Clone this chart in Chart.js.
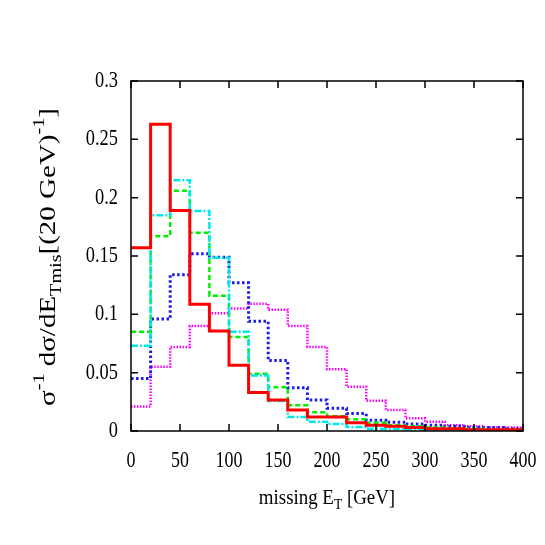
<!DOCTYPE html>
<html>
<head>
<meta charset="utf-8">
<script src="https://cdn.jsdelivr.net/npm/chart.js@4.4.0/dist/chart.umd.min.js"></script>
<style>
  html, body { margin: 0; padding: 0; background: #fff; }
</style>
</head>
<body>
<canvas id="histChart" width="545" height="545"></canvas>
<script>
// bin edges in GeV (20 GeV bins)
var binEdges = [0, 20, 40, 60, 80, 100, 120, 140, 160, 180, 200, 220, 240, 260, 280, 300, 320, 340, 360, 380, 400];

// normalised distributions, one value per bin
var redVals     = [0.157, 0.263, 0.189, 0.1086, 0.0857, 0.0563, 0.033, 0.0265, 0.018, 0.012, 0.012, 0.007, 0.005, 0.004, 0.003, 0.002, 0.002, 0.001, 0.001, 0.001];
var greenVals   = [0.085, 0.167, 0.206, 0.170, 0.116, 0.0806, 0.049, 0.0376, 0.022, 0.016, 0.0127, 0.010, 0.007, 0.005, 0.004, 0.003, 0.002, 0.002, 0.001, 0.001];
var cyanVals    = [0.073, 0.185, 0.215, 0.1886, 0.1485, 0.085, 0.0475, 0.0257, 0.012, 0.008, 0.006, 0.0034, 0.002, 0.002, 0.0015, 0.001, 0.001, 0.001, 0.0005, 0.0005];
var blueVals    = [0.045, 0.096, 0.134, 0.152, 0.149, 0.127, 0.094, 0.0604, 0.037, 0.0265, 0.0195, 0.015, 0.0093, 0.0076, 0.006, 0.005, 0.004, 0.003, 0.003, 0.002];
var magentaVals = [0.021, 0.055, 0.072, 0.090, 0.101, 0.105, 0.109, 0.104, 0.090, 0.072, 0.053, 0.038, 0.026, 0.018, 0.011, 0.008, 0.005, 0.004, 0.003, 0.003];

// turn bin values into points on the bin edges (last value repeated at the right edge)
function steps(vals) {
  return binEdges.map(function (e, i) {
    return { x: e, y: vals[Math.min(i, vals.length - 1)] };
  });
}

function histSet(vals, color, width, dash) {
  return {
    data: steps(vals),
    borderColor: color,
    backgroundColor: color,
    borderWidth: width,
    borderDash: dash,
    stepped: 'before',
    pointRadius: 0,
    fill: false,
    tension: 0
  };
}

var serif = '"Liberation Serif", "Times New Roman", serif';

function fmtY(v) { return String(Number(v.toFixed(2))); }

// frame + inward ticks on all four sides (gnuplot style)
var framePlugin = {
  id: 'frame',
  afterDatasetsDraw: function (chart) {
    var ctx = chart.ctx, a = chart.chartArea;
    var xs = chart.scales.x, ys = chart.scales.y;
    ctx.save();
    ctx.strokeStyle = '#000';
    ctx.lineWidth = 1.5;
    ctx.strokeRect(a.left, a.top, a.right - a.left, a.bottom - a.top);
    ctx.beginPath();
    xs.ticks.forEach(function (t) {
      var px = xs.getPixelForValue(t.value);
      ctx.moveTo(px, a.bottom); ctx.lineTo(px, a.bottom - 7);
      ctx.moveTo(px, a.top); ctx.lineTo(px, a.top + 7);
    });
    ys.ticks.forEach(function (t) {
      var py = ys.getPixelForValue(t.value);
      ctx.moveTo(a.left, py); ctx.lineTo(a.left + 7, py);
      ctx.moveTo(a.right, py); ctx.lineTo(a.right - 7, py);
    });
    ctx.stroke();

    // tick labels, narrow like the original
    ctx.fillStyle = '#000';
    ctx.font = '23px ' + serif;
    ctx.textBaseline = 'middle';
    ctx.textAlign = 'center';
    xs.ticks.forEach(function (t) {
      ctx.save();
      ctx.translate(xs.getPixelForValue(t.value), a.bottom + 30);
      ctx.scale(0.78, 1);
      ctx.fillText(String(t.value), 0, 0);
      ctx.restore();
    });
    ctx.textAlign = 'right';
    ys.ticks.forEach(function (t) {
      ctx.save();
      ctx.translate(a.left - 13, ys.getPixelForValue(t.value));
      ctx.scale(0.8, 1);
      ctx.fillText(fmtY(t.value), 0, 0);
      ctx.restore();
    });
    ctx.restore();
  }
};

// axis titles with sub/superscripts
function drawPieces(ctx, pieces, x0, y0) {
  var x = x0;
  pieces.forEach(function (p) {
    ctx.font = p.size + 'px ' + serif;
    ctx.fillText(p.t, x, y0 + p.dy);
    x += ctx.measureText(p.t).width;
  });
}
function piecesWidth(ctx, pieces) {
  var w = 0;
  pieces.forEach(function (p) {
    ctx.font = p.size + 'px ' + serif;
    w += ctx.measureText(p.t).width;
  });
  return w;
}

var titlePlugin = {
  id: 'titles',
  afterDraw: function (chart) {
    var ctx = chart.ctx;
    ctx.save();
    ctx.fillStyle = '#000';
    ctx.textBaseline = 'alphabetic';
    ctx.textAlign = 'left';

    var xt = [
      { t: 'missing E', size: 21, dy: 0 },
      { t: 'T', size: 15, dy: 5 },
      { t: ' [GeV]', size: 21, dy: 0 }
    ];
    var w = piecesWidth(ctx, xt) * 0.9;
    ctx.save();
    ctx.translate(327 - w / 2, 504);
    ctx.scale(0.9, 1);
    drawPieces(ctx, xt, 0, 0);
    ctx.restore();

    var yt = [
      { t: '\u03c3', size: 23, dy: 0 },
      { t: '-1', size: 16, dy: -11 },
      { t: ' d\u03c3/dE', size: 23, dy: 0 },
      { t: 'Tmis', size: 16, dy: 6 },
      { t: '[(20 GeV)', size: 23, dy: 0 },
      { t: '-1', size: 16, dy: -11 },
      { t: ']', size: 23, dy: 0 }
    ];
    var stretch = 1.26;
    var h = piecesWidth(ctx, yt) * stretch;
    ctx.translate(55, 257 + h / 2);
    ctx.rotate(-Math.PI / 2);
    ctx.scale(stretch, 1);
    drawPieces(ctx, yt, 0, 0);
    ctx.restore();
  }
};

new Chart(document.getElementById('histChart'), {
  type: 'line',
  data: {
    datasets: [
      histSet(redVals, '#ff0000', 3, []),
      histSet(cyanVals, '#00e8e8', 2.5, [7, 2, 2, 2]),
      histSet(greenVals, '#00ee00', 2.5, [5, 3]),
      histSet(blueVals, '#1c1cf0', 3, [2.5, 2.5]),
      histSet(magentaVals, '#ff00ff', 2.5, [1.5, 1.5])
    ]
  },
  options: {
    responsive: false,
    animation: false,
    devicePixelRatio: 1,
    layout: { padding: { top: 81, right: 22, left: 0, bottom: 0 } },
    plugins: {
      legend: { display: false },
      tooltip: { enabled: false }
    },
    scales: {
      x: {
        type: 'linear',
        min: 0,
        max: 400,
        grid: { display: false },
        border: { display: false },
        ticks: { stepSize: 50, display: false },
        afterFit: function (scale) { scale.height = 114; }
      },
      y: {
        min: 0,
        max: 0.3,
        grid: { display: false },
        border: { display: false },
        ticks: { stepSize: 0.05, display: false },
        afterFit: function (scale) { scale.width = 131; }
      }
    }
  },
  plugins: [framePlugin, titlePlugin]
});
</script>
</body>
</html>
